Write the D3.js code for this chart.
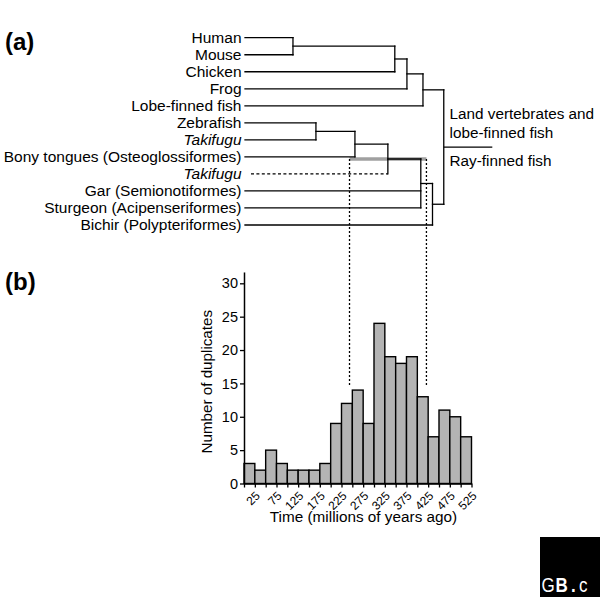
<!DOCTYPE html>
<html><head><meta charset="utf-8">
<script src="https://cdn.jsdelivr.net/npm/d3@7"></script>
<style>
html,body{margin:0;padding:0;background:#fff;}
svg{display:block;}
text{font-family:"Liberation Sans",Arial,Helvetica,sans-serif;}
</style></head><body>
<svg id="chart" width="600" height="597"></svg>
<script>
// ---- Tree data (panel a) ----
const leafNames = ["Human","Mouse","Chicken","Frog","Lobe-finned fish","Zebrafish","Takifugu",
  "Bony tongues (Osteoglossiformes)","Takifugu","Gar (Semionotiformes)","Sturgeon (Acipenseriformes)","Bichir (Polypteriformes)"];
const leafItalic = [false,false,false,false,false,false,true,false,true,false,false,false];
const leafDashed = [false,false,false,false,false,false,false,false,true,false,false,false];
const nodeIds = ["HM","HMC","HMCF","LOBE","ZT","ZTB","TEL","POLY","RAY","ROOT"];
const nodeChildren = [["L0","L1"],["HM","L2"],["HMC","L3"],["HMCF","L4"],["L5","L6"],["ZT","L7"],
  ["ZTB","L8"],["TEL","L9","L10"],["POLY","L11"],["LOBE","RAY"]];
const nodeAges = [113,348,376,413,166,256,332,408,435,461];
const rootStemAge = 573;
const duplicationInterval = [243.5, 421];
const cladeLabelsTop = ["Land vertebrates and","lobe-finned fish"];
const cladeLabelsBottom = ["Ray-finned fish"];

// ---- Histogram data (panel b) ----
const binStarts = [0,25,50,75,100,125,150,175,200,225,250,275,300,325,350,375,400,425,450,475,500];
const binWidth = 25;
const duplicateCounts = [3,2,5,3,2,2,2,3,9,12,14,9,24,19,18,19,13,7,11,10,7];
const yTicks = [0,5,10,15,20,25,30];
const xTicks = [0,25,50,75,100,125,150,175,200,225,250,275,300,325,350,375,400,425,450,475,500,525];
const xTickLabels = [25,75,125,175,225,275,325,375,425,475,525];

const svg = d3.select("#chart");
svg.append("rect").attr("width",600).attr("height",597).attr("fill","#fff");
const FONT = "'Liberation Sans',Arial,Helvetica,sans-serif";

// shared time scale
const x = d3.scaleLinear().domain([0,525]).range([244,471.5]);
const leafY = d3.scaleLinear().domain([0,leafNames.length-1]).range([37.7,225]);

// compute tree geometry
const info = {};
leafNames.forEach((n,i)=>{ info["L"+i] = {age:0, y:leafY(i), leaf:i}; });
nodeIds.forEach((id,k)=>{
  const ys = nodeChildren[k].map(c=>info[c].y);
  info[id] = {age:nodeAges[k], y:(d3.min(ys)+d3.max(ys))/2};
});

const tree = svg.append("g");
// gray duplication interval bar
tree.append("line")
  .attr("x1",x(duplicationInterval[0])).attr("x2",x(duplicationInterval[1]))
  .attr("y1",info.TEL.y).attr("y2",info.TEL.y)
  .attr("stroke","#a0a0a0").attr("stroke-width",3.5);

// dotted projection lines
duplicationInterval.forEach(a=>{
  tree.append("line").attr("x1",x(a)).attr("x2",x(a))
    .attr("y1",info.TEL.y).attr("y2",386)
    .attr("stroke","#000").attr("stroke-width",1.3).attr("stroke-dasharray","2,2");
});

nodeIds.forEach((id,k)=>{
  const nx = x(nodeAges[k]);
  const ys = nodeChildren[k].map(c=>info[c].y);
  tree.append("line").attr("x1",nx).attr("x2",nx)
    .attr("y1",d3.min(ys)).attr("y2",d3.max(ys))
    .attr("stroke","#000").attr("stroke-width",1.3).attr("stroke-linecap","square");
  nodeChildren[k].forEach(c=>{
    const ci = info[c];
    const isLeaf = ci.leaf !== undefined;
    const dashed = isLeaf && leafDashed[ci.leaf];
    const sx = isLeaf ? x(0) + (dashed ? 7 : 1) : x(ci.age);
    tree.append("line").attr("x1",sx).attr("x2",nx).attr("y1",ci.y).attr("y2",ci.y)
      .attr("stroke","#000").attr("stroke-width",1.3)
      .attr("stroke-dasharray", dashed ? "3,2.4" : null)
      .attr("stroke-linecap", dashed ? "butt" : "square");
  });
});
// root stem
tree.append("line").attr("x1",x(nodeAges[nodeIds.indexOf("ROOT")])).attr("x2",x(rootStemAge))
  .attr("y1",info.ROOT.y).attr("y2",info.ROOT.y)
  .attr("stroke","#000").attr("stroke-width",1.3);

// leaf labels
tree.selectAll("text.leaf").data(leafNames).join("text").attr("class","leaf")
  .attr("x",241.5).attr("y",(d,i)=>leafY(i)+4.8)
  .attr("text-anchor","end").attr("font-size","15.5px")
  .attr("font-style",(d,i)=>leafItalic[i]?"italic":"normal")
  .text(d=>d);

// clade labels
tree.selectAll("text.cladeTop").data(cladeLabelsTop).join("text").attr("class","cladeTop")
  .attr("x",449.5).attr("y",(d,i)=>119+i*18.5).attr("font-size","15.3px").text(d=>d);
tree.selectAll("text.cladeBot").data(cladeLabelsBottom).join("text").attr("class","cladeBot")
  .attr("x",449.5).attr("y",166).attr("font-size","15.3px").text(d=>d);

// panel labels
svg.append("text").attr("x",5).attr("y",50).attr("font-size","24px").attr("font-weight","bold").text("(a)");
svg.append("text").attr("x",5).attr("y",290).attr("font-size","24px").attr("font-weight","bold").text("(b)");

// ---- Histogram ----
const y = d3.scaleLinear().domain([0,31.7]).range([483.5,483.5-31.7*6.673]);
const hist = svg.append("g");
hist.selectAll("rect.bar").data(duplicateCounts).join("rect").attr("class","bar")
  .attr("x",(d,i)=>x(binStarts[i])).attr("width",(d,i)=>x(binStarts[i]+binWidth)-x(binStarts[i]))
  .attr("y",d=>y(d)).attr("height",d=>y(0)-y(d))
  .attr("fill","#b4b4b4").attr("stroke","#000").attr("stroke-width",1.4);

const gx = hist.append("g").attr("transform",`translate(0,${y(0)})`)
  .call(d3.axisBottom(x).tickValues(xTicks).tickSize(4).tickSizeOuter(0)
    .tickFormat(d=>xTickLabels.includes(d)?d:""));
gx.select(".domain").attr("stroke-width",1.5);
gx.selectAll(".tick line").attr("stroke-width",1.3);
gx.selectAll("text").attr("y",0).attr("dy","0.35em")
  .attr("transform","translate(2.5,10) rotate(-45)")
  .style("text-anchor","end").attr("font-size","12px").attr("fill","#000").attr("font-family",FONT);

const gy = hist.append("g").attr("transform",`translate(${x(0)},0)`)
  .call(d3.axisLeft(y).tickValues(yTicks).tickSize(4).tickSizeOuter(0).tickPadding(2));
gy.select(".domain").attr("stroke-width",1.5);
gy.selectAll(".tick line").attr("stroke-width",1.3);
gy.selectAll("text").attr("font-size","14.5px").attr("fill","#000").attr("font-family",FONT);

hist.append("text").attr("transform","translate(212.4,381.7) rotate(-90)")
  .attr("text-anchor","middle").attr("font-size","15.2px").text("Number of duplicates");
hist.append("text").attr("x",363.5).attr("y",522)
  .attr("text-anchor","middle").attr("font-size","15.3px").text("Time (millions of years ago)");

// ---- Logo ----
svg.append("rect").attr("x",540).attr("y",537).attr("width",60).attr("height",60).attr("fill","#000");
const logoLetters = [["G","normal",541.5],["B","bold",555.5],[".","bold",571],["c","normal",579]];
logoLetters.forEach(l=>{
  svg.append("text").attr("transform",`translate(${l[2]},592) scale(0.85,1)`)
    .attr("font-size","20px").attr("font-weight",l[1]).attr("fill","#fff").text(l[0]);
});
</script>
</body></html>
